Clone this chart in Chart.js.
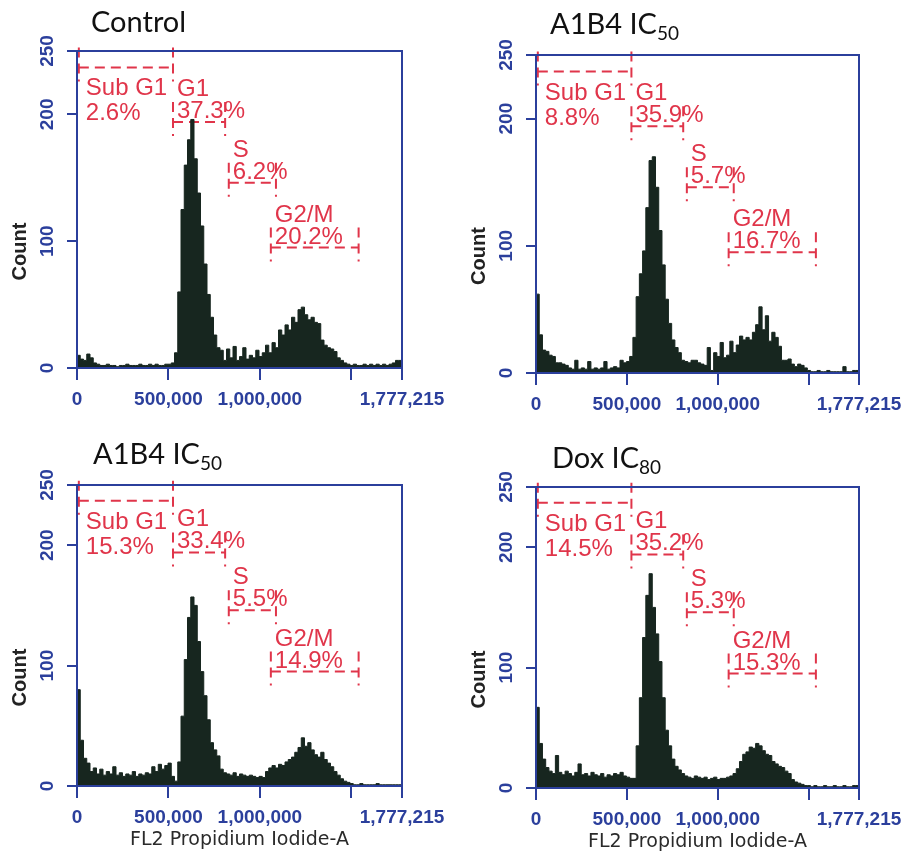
<!DOCTYPE html>
<html>
<head>
<meta charset="utf-8">
<script src="https://cdn.jsdelivr.net/npm/chart.js@4.4.1/dist/chart.umd.min.js"></script>
<style>
html, body { margin: 0; padding: 0; background: #fff; }
#wrap { position: relative; width: 906px; height: 852px; overflow: hidden; }
.pane { position: absolute; width: 453px; height: 426px; }
.ttl { position: absolute; font-family: Lato, "Open Sans", sans-serif; font-size: 29px; line-height: 29px; color: #111; white-space: nowrap; }
.ttl sub { font-size: 19px; vertical-align: -6px; line-height: 0; }
</style>
</head>
<body>
<div id="wrap">
  <div class="pane" style="left:0;top:0"><canvas id="c1" width="453" height="426"></canvas></div>
  <div class="pane" style="left:453px;top:0"><canvas id="c2" width="453" height="426"></canvas></div>
  <div class="pane" style="left:0;top:426px"><canvas id="c3" width="453" height="426"></canvas></div>
  <div class="pane" style="left:453px;top:426px"><canvas id="c4" width="453" height="426"></canvas></div>
  <div class="ttl" style="left:91px;top:6px">Control</div>
  <div class="ttl" style="left:550px;top:8px">A1B4 IC<sub>50</sub></div>
  <div class="ttl" style="left:93px;top:438px">A1B4 IC<sub>50</sub></div>
  <div class="ttl" style="left:552px;top:442px">Dox IC<sub>80</sub></div>
</div>
<script>
// FL2 histogram, 100 channels over the full 0 .. 1,777,215 range
const X_MAX = 1777215;
const BIN_W = X_MAX / 100;

const xTicks = [0, 500000, 1000000, 1500000, 1777215];
const xTickLabels = ['0', '500,000', '1,000,000', '', '1,777,215'];
const yTicks = [0, 100, 200, 250];

// cell-cycle markers (same gates on every plot)
const gateNames = ['Sub G1', 'G1', 'S', 'G2/M'];
const gateStart = [10000, 525000, 830000, 1060000];
const gateEnd = [525000, 810000, 1088000, 1540000];
const gateLevel = [237, 194, 146, 95];

const pctControl = ['2.6%', '37.3%', '6.2%', '20.2%'];
const pctA1B4top = ['8.8%', '35.9%', '5.7%', '16.7%'];
const pctA1B4bot = ['15.3%', '33.4%', '5.5%', '14.9%'];
const pctDox = ['14.5%', '35.2%', '5.3%', '15.3%'];

const countsControl = [
  40,10,7,6,11,8,4,3,2,2,
  3,2,2,1,2,2,3,2,2,2,
  3,2,2,3,2,3,2,2,3,3,
  4,12,60,125,160,180,196,165,138,112,
  82,58,40,26,16,14,6,15,8,17,
  6,9,16,7,10,8,14,9,12,18,
  12,20,16,30,26,34,30,40,36,46,
  48,42,38,40,36,35,22,18,16,15,
  13,8,6,4,3,2,3,2,2,3,
  2,3,2,3,2,3,2,3,4,6
];
const countsA1B4top = [
  99,62,30,18,17,14,13,8,8,7,
  6,4,3,10,3,4,3,9,3,4,
  3,4,9,3,4,5,4,10,8,9,
  13,28,60,78,96,130,167,170,146,112,
  85,58,39,26,20,16,10,9,8,10,
  10,8,7,6,20,2,16,13,24,12,
  14,25,16,22,29,26,28,26,32,38,
  52,34,45,25,32,28,21,10,10,11,
  7,5,7,6,4,2,1,1,2,1,
  1,2,1,1,1,1,5,1,1,2
];
const countsA1B4bot = [
  163,80,38,23,19,12,15,10,14,9,
  12,10,16,9,11,8,10,9,12,8,
  10,9,11,10,16,12,18,14,17,19,
  8,4,20,58,105,140,157,150,120,95,
  75,55,36,30,25,14,11,10,9,11,
  8,10,9,8,9,8,7,8,7,12,
  15,17,15,18,17,20,22,24,28,32,
  40,33,36,30,26,24,28,22,19,16,
  12,9,6,4,3,2,1,1,2,1,
  1,1,1,2,1,1,1,1,1,1
];
const countsDox = [
  104,67,37,24,17,14,12,27,13,11,
  14,12,10,13,20,11,12,10,13,11,
  10,12,9,11,10,12,11,13,10,9,
  8,8,35,75,125,160,178,150,128,105,
  75,48,35,24,18,15,12,10,9,8,
  10,9,8,9,7,8,9,7,8,8,
  9,10,12,16,22,28,30,34,33,37,
  35,31,28,27,22,20,18,17,14,12,
  7,5,4,3,2,2,1,2,1,1,
  2,1,1,2,1,1,2,1,1,2
];

const BLUE = '#2b3f9c';
const RED = '#e0354a';
const HIST = '#17261f';

// chart area of each plot inside its 453x426 canvas
const panels = [
  { id: 'c1', counts: countsControl, pct: pctControl, area: [77, 51, 402, 368], xTitle: false },
  { id: 'c2', counts: countsA1B4top, pct: pctA1B4top, area: [83, 55, 406, 373], xTitle: false },
  { id: 'c3', counts: countsA1B4bot, pct: pctA1B4bot, area: [77, 59, 402, 360], xTitle: true },
  { id: 'c4', counts: countsDox, pct: pctDox, area: [83, 61, 406, 362], xTitle: true }
];

const cytoPlugin = {
  id: 'cyto',
  beforeDatasetsDraw(chart, args, opts) {
    const { ctx, scales: { x, y } } = chart;
    ctx.save();
    ctx.strokeStyle = RED;
    ctx.lineWidth = 2;
    ctx.setLineDash([10, 6]);
    gateNames.forEach((name, i) => {
      const x1 = x.getPixelForValue(gateStart[i]);
      const x2 = x.getPixelForValue(gateEnd[i]);
      const yy = y.getPixelForValue(gateLevel[i]);
      ctx.beginPath();
      ctx.moveTo(x1, yy); ctx.lineTo(x2, yy);
      ctx.moveTo(x1, yy - 20); ctx.lineTo(x1, yy + 14);
      ctx.moveTo(x2, yy - 20); ctx.lineTo(x2, yy + 14);
      ctx.stroke();
    });
    ctx.setLineDash([]);
    ctx.fillStyle = RED;
    ctx.font = '24px "Liberation Sans", Arial, sans-serif';
    ctx.textAlign = 'left';
    ctx.textBaseline = 'alphabetic';
    gateNames.forEach((name, i) => {
      const x1 = x.getPixelForValue(gateStart[i]);
      const yy = y.getPixelForValue(gateLevel[i]);
      if (i === 0) {
        ctx.fillText(name, x1 + 7, yy + 28);
        ctx.fillText(opts.pct[i], x1 + 7, yy + 53);
      } else {
        ctx.fillText(name, x1 + 4, yy - 26);
        ctx.fillText(opts.pct[i], x1 + 4, yy - 4);
      }
    });
    ctx.restore();
  },
  afterDraw(chart, args, opts) {
    const { ctx, chartArea: a, scales: { y } } = chart;
    ctx.save();
    ctx.strokeStyle = BLUE;
    ctx.lineWidth = 2;
    ctx.strokeRect(a.left, a.top, a.right - a.left, a.bottom - a.top);
    // rotated count labels
    ctx.fillStyle = BLUE;
    ctx.font = 'bold 19px "Liberation Sans", Arial, sans-serif';
    ctx.textAlign = 'center';
    ctx.textBaseline = 'middle';
    y.ticks.forEach(t => {
      ctx.save();
      ctx.translate(a.left - 29, y.getPixelForValue(t.value));
      ctx.rotate(-Math.PI / 2);
      ctx.fillText(String(t.value), 0, 0);
      ctx.restore();
    });
    ctx.fillStyle = '#222';
    ctx.font = 'bold 20px "Liberation Sans", Arial, sans-serif';
    ctx.save();
    ctx.translate(a.left - 57, (a.top + a.bottom) / 2 + 42);
    ctx.rotate(-Math.PI / 2);
    ctx.fillText('Count', 0, 0);
    ctx.restore();
    if (opts.xTitle) {
      ctx.fillStyle = '#2a2a2a';
      ctx.font = '19px "DejaVu Sans", sans-serif';
      ctx.textBaseline = 'alphabetic';
      ctx.fillText('FL2 Propidium Iodide-A', (a.left + a.right) / 2, a.bottom + 59);
    }
    ctx.restore();
  }
};

panels.forEach(p => {
  const [left, top, right, bottom] = p.area;
  const pts = p.counts.map((c, i) => ({ x: i * BIN_W, y: c }));
  pts.push({ x: X_MAX, y: p.counts[p.counts.length - 1] });
  new Chart(document.getElementById(p.id), {
    type: 'line',
    data: {
      datasets: [{
        data: pts,
        stepped: 'after',
        fill: 'origin',
        backgroundColor: HIST,
        borderColor: HIST,
        borderWidth: 1,
        pointRadius: 0
      }]
    },
    options: {
      responsive: false,
      animation: false,
      devicePixelRatio: 1,
      layout: { padding: { left: 0, top: top, right: 453 - right, bottom: 426 - bottom - 44 } },
      plugins: {
        legend: { display: false },
        tooltip: { enabled: false },
        cyto: { pct: p.pct, xTitle: p.xTitle }
      },
      scales: {
        x: {
          type: 'linear',
          min: 0,
          max: X_MAX,
          afterBuildTicks: s => { s.ticks = xTicks.map(v => ({ value: v })); },
          afterFit: s => { s.height = 44; s.paddingLeft = 0; s.paddingRight = 0; },
          border: { color: BLUE, width: 2 },
          grid: { drawOnChartArea: false, color: BLUE, tickColor: BLUE, lineWidth: 2, tickLength: 12 },
          ticks: {
            autoSkip: false,
            maxRotation: 0,
            padding: 8,
            color: BLUE,
            font: { family: '"Liberation Sans", Arial, sans-serif', size: 19, weight: 'bold' },
            callback: (v, i) => xTickLabels[i]
          }
        },
        y: {
          min: 0,
          max: 250,
          afterBuildTicks: s => { s.ticks = yTicks.map(v => ({ value: v })); },
          afterFit: s => { s.width = left; s.paddingTop = 0; s.paddingBottom = 0; },
          border: { color: BLUE, width: 2 },
          grid: { drawOnChartArea: false, color: BLUE, tickColor: BLUE, lineWidth: 2, tickLength: 10 },
          ticks: { display: false }
        }
      }
    },
    plugins: [cytoPlugin]
  });
});
</script>
</body>
</html>
